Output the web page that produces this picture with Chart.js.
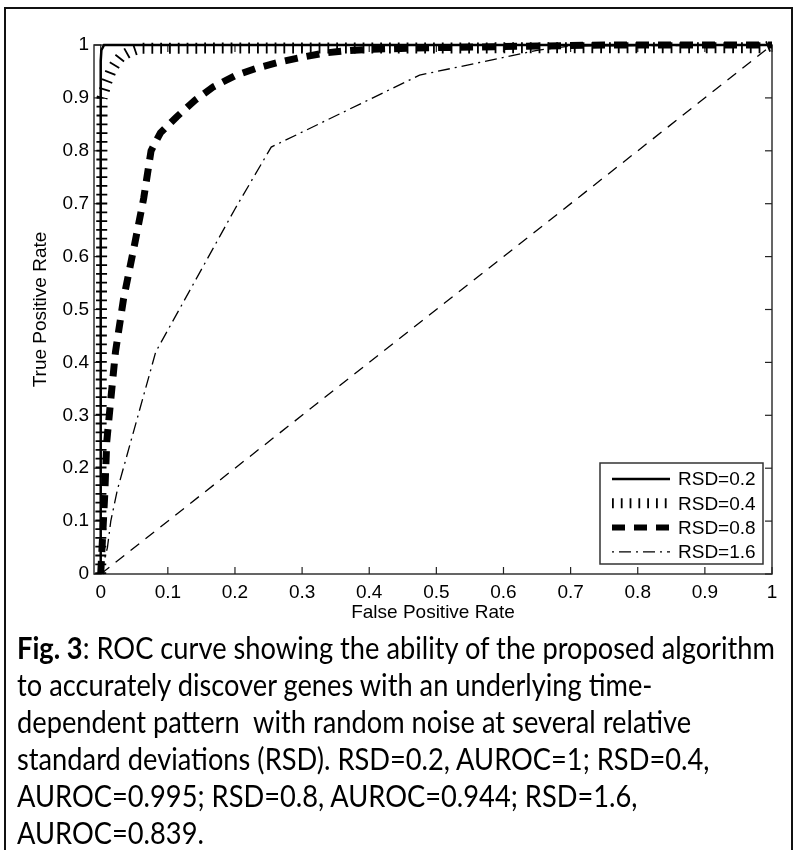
<!DOCTYPE html>
<html><head><meta charset="utf-8">
<script src="https://cdn.jsdelivr.net/npm/chart.js@4"></script>
<style>
html,body{margin:0;padding:0;background:#fff;width:796px;height:850px;overflow:hidden}
#frame{position:absolute;left:4px;top:7px;width:789px;height:880px;border:2px solid #111;box-sizing:border-box}
#wrap{position:absolute;left:0;top:0;width:796px;height:630px}
#caption{position:absolute;left:17px;top:629px;font-family:Lato,'Open Sans',sans-serif;font-size:30px;line-height:37px;color:#000}
.ln{display:block;height:37px;white-space:pre}
.ln span{display:inline-block;transform-origin:0 50%;white-space:pre}
</style></head>
<body>
<div id="frame"></div>
<div id="wrap"><canvas id="c" width="796" height="630"></canvas></div>
<div id="caption">
<div class="ln"><span><b>Fig. 3</b>: ROC curve showing the ability of the proposed algorithm</span></div>
<div class="ln"><span>to accurately discover genes with an underlying time-</span></div>
<div class="ln"><span>dependent pattern  with random noise at several relative</span></div>
<div class="ln"><span>standard deviations (RSD). RSD=0.2, AUROC=1; RSD=0.4,</span></div>
<div class="ln"><span>AUROC=0.995; RSD=0.8, AUROC=0.944; RSD=1.6,</span></div>
<div class="ln"><span>AUROC=0.839.</span></div>
</div>
<script>
// ---- data ----
const xTickValues = [0,0.1,0.2,0.3,0.4,0.5,0.6,0.7,0.8,0.9,1];
const xTickLabels = ['0','0.1','0.2','0.3','0.4','0.5','0.6','0.7','0.8','0.9','1'];
const yTickValues = [0,0.1,0.2,0.3,0.4,0.5,0.6,0.7,0.8,0.9,1];
const yTickLabels = ['0','0.1','0.2','0.3','0.4','0.5','0.6','0.7','0.8','0.9','1'];
const seriesLabels = ['RSD=0.2','RSD=0.4','RSD=0.8','RSD=1.6'];

const rsd02FPR = [0, 0, 0.001, 0.005, 1];
const rsd02TPR = [0, 0.97, 0.99, 1, 1];

const rsd04FPR = [0, 0.002, 0.009, 0.015, 0.022, 0.03, 0.044, 0.058, 0.99, 1];
const rsd04TPR = [0, 0.9, 0.93, 0.95, 0.965, 0.978, 0.988, 0.994, 0.995, 1];

const rsd08FPR = [0, 0.002, 0.004, 0.006, 0.009, 0.015, 0.022, 0.034, 0.05, 0.064, 0.075, 0.089, 0.113, 0.141, 0.168, 0.2, 0.232, 0.267, 0.3, 0.334, 0.366, 0.4, 0.5, 0.6, 0.75, 1];
const rsd08TPR = [0, 0.05, 0.1, 0.15, 0.25, 0.33, 0.42, 0.52, 0.62, 0.71, 0.8, 0.834, 0.864, 0.896, 0.921, 0.942, 0.956, 0.968, 0.977, 0.985, 0.989, 0.992, 0.995, 0.997, 1, 1];

const rsd16FPR = [0, 0.01, 0.015, 0.025, 0.082, 0.2, 0.254, 0.475, 0.65, 0.7, 1];
const rsd16TPR = [0, 0.05, 0.1, 0.16, 0.42, 0.69, 0.807, 0.943, 0.99, 0.998, 1];

const chanceFPR = [0, 1];
const chanceTPR = [0, 1];

const xAxisTitle = 'False Positive Rate';
const yAxisTitle = 'True Positive Rate';

// ---- build ----
function pts(xs, ys){ return xs.map((x,i)=>({x:x, y:ys[i]})); }
const base = {showLine:true, pointRadius:0, pointHoverRadius:0, tension:0, fill:false, borderColor:'#000', backgroundColor:'#000', clip:false, borderCapStyle:'butt', borderJoinStyle:'miter'};
const datasets = [
  Object.assign({}, base, {label:seriesLabels[0], data:pts(rsd02FPR,rsd02TPR), borderWidth:2.5, borderDash:[]}),
  Object.assign({}, base, {label:seriesLabels[1], data:pts(rsd04FPR,rsd04TPR), borderWidth:11, borderDash:[1.8,7]}),
  Object.assign({}, base, {label:seriesLabels[2], data:pts(rsd08FPR,rsd08TPR), borderWidth:7, borderDash:[13,9]}),
  Object.assign({}, base, {label:seriesLabels[3], data:pts(rsd16FPR,rsd16TPR), borderWidth:1.3, borderDash:[12,5,2,5]}),
  Object.assign({}, base, {label:'', data:pts(chanceFPR,chanceTPR), borderWidth:1.3, borderDash:[11,8]})
];

const FONT = 'Liberation Sans';
const framePlugin = {
  id:'frame',
  beforeDatasetsDraw(chart){
    const ctx = chart.ctx, a = chart.chartArea, xs = chart.scales.x, ys = chart.scales.y;
    ctx.save();
    ctx.strokeStyle = '#333'; ctx.lineWidth = 1.5; ctx.setLineDash([]);
    ctx.strokeRect(a.left, a.top, a.right-a.left, a.bottom-a.top);
    ctx.lineWidth = 1.2; ctx.strokeStyle = '#222';
    const L = 7;
    xTickValues.forEach(v=>{
      const px = xs.getPixelForValue(v);
      ctx.beginPath(); ctx.moveTo(px, a.bottom); ctx.lineTo(px, a.bottom-L); ctx.stroke();
      ctx.beginPath(); ctx.moveTo(px, a.top); ctx.lineTo(px, a.top+L); ctx.stroke();
    });
    yTickValues.forEach(v=>{
      const py = ys.getPixelForValue(v);
      ctx.beginPath(); ctx.moveTo(a.left, py); ctx.lineTo(a.left+L, py); ctx.stroke();
      ctx.beginPath(); ctx.moveTo(a.right, py); ctx.lineTo(a.right-L, py); ctx.stroke();
    });
    ctx.restore();
  }
};
const legendPlugin = {
  id:'mlegend',
  afterDatasetsDraw(chart){
    const ctx = chart.ctx, a = chart.chartArea;
    const bx2 = a.right - 9, by2 = a.bottom - 10, bx1 = bx2 - 163, by1 = by2 - 101;
    ctx.save();
    ctx.fillStyle = '#fff'; ctx.fillRect(bx1, by1, bx2-bx1, by2-by1);
    ctx.strokeStyle = '#333'; ctx.lineWidth = 1.5; ctx.setLineDash([]);
    ctx.strokeRect(bx1, by1, bx2-bx1, by2-by1);
    const items = chart.data.datasets.filter(d=>d.label);
    items.forEach((d,i)=>{
      const y = by1 + 16 + i*24.3;
      ctx.strokeStyle = '#000'; ctx.lineWidth = d.borderWidth; ctx.lineCap = 'butt';
      let w = d.borderWidth;
      if (i===1) w = 10;
      if (i===2) w = 6;
      ctx.lineWidth = w;
      ctx.setLineDash(d.borderDash || []);
      ctx.lineDashOffset = (i===3) ? 17 : 0;
      ctx.beginPath(); ctx.moveTo(bx1+12, y); ctx.lineTo(bx1+70, y); ctx.stroke();
      ctx.setLineDash([]);
      ctx.fillStyle = '#000'; ctx.font = '19px "'+FONT+'"'; ctx.textBaseline = 'middle'; ctx.textAlign='left';
      ctx.fillText(d.label, bx1+78, y+1);
    });
    ctx.restore();
  }
};

new Chart(document.getElementById('c'), {
  type:'scatter',
  data:{datasets:datasets},
  options:{
    responsive:false, devicePixelRatio:1, animation:false, events:[],
    layout:{padding:{left:0, top:45, right:24, bottom:0}},
    plugins:{legend:{display:false}, tooltip:{enabled:false}},
    scales:{
      x:{type:'linear', min:-0.01, max:1,
        afterBuildTicks:s=>{ s.ticks = xTickValues.map(v=>({value:v})); },
        afterFit:s=>{ s.height = 56; },
        grid:{display:false, drawTicks:false}, border:{display:false},
        ticks:{autoSkip:false, maxRotation:0, padding:7, color:'#000', font:{family:FONT, size:19},
          callback:(v,i)=>xTickLabels[i]},
        title:{display:true, text:xAxisTitle, color:'#000', font:{family:FONT, size:19}, padding:{top:0, bottom:6}}
      },
      y:{type:'linear', min:0, max:1,
        afterBuildTicks:s=>{ s.ticks = yTickValues.map(v=>({value:v})); },
        afterFit:s=>{ s.width = 94; },
        grid:{display:false, drawTicks:false}, border:{display:false},
        ticks:{autoSkip:false, padding:5, color:'#000', font:{family:FONT, size:19},
          callback:(v,i)=>yTickLabels[i]},
        title:{display:true, text:yAxisTitle, color:'#000', font:{family:FONT, size:19}, padding:{top:29, bottom:0}}
      }
    }
  },
  plugins:[framePlugin, legendPlugin]
});

// caption fit (calibri-like width)
(function(){
  const spans = document.querySelectorAll('#caption .ln span');
  const w = spans[0].getBoundingClientRect().width;
  const s = 758 / w;
  spans.forEach(sp=>{ sp.style.transform = 'scaleX('+s+')'; });
})();
</script>
</body></html>
